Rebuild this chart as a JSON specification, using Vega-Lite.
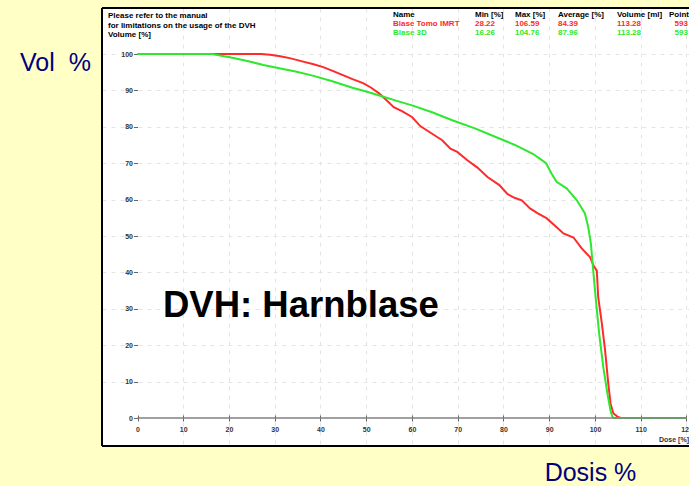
{
  "$schema": "https://vega.github.io/schema/vega-lite/v6.json",
  "width": 587,
  "height": 438,
  "autosize": {"type": "none"},
  "padding": {"left": 102, "top": 8, "right": 0, "bottom": 40},
  "background": "#ffffc6",
  "config": {
    "view": {"fill": "white", "stroke": null},
    "axis": {
      "labelFont": "Liberation Sans",
      "labelFontWeight": "bold",
      "labelFontSize": 7,
      "labelColor": "#333333",
      "domain": false,
      "tickColor": "#666666",
      "gridColor": "#e4e4e4",
      "gridDash": [4, 5],
      "labelOverlap": false,
      "labelBound": false,
      "labelFlush": false
    },
    "text": {"font": "Liberation Sans", "fontWeight": "bold", "fontSize": 8, "align": "left", "baseline": "middle"}
  },
  "datasets": {
    "curves": [
      {"series": "Blase Tomo IMRT", "dose": 0, "vol": 100},
      {"series": "Blase Tomo IMRT", "dose": 16.3, "vol": 100},
      {"series": "Blase Tomo IMRT", "dose": 27, "vol": 100},
      {"series": "Blase Tomo IMRT", "dose": 29, "vol": 99.8},
      {"series": "Blase Tomo IMRT", "dose": 31.2, "vol": 99.4},
      {"series": "Blase Tomo IMRT", "dose": 33.5, "vol": 98.8},
      {"series": "Blase Tomo IMRT", "dose": 36.2, "vol": 97.9},
      {"series": "Blase Tomo IMRT", "dose": 38.5, "vol": 97.2},
      {"series": "Blase Tomo IMRT", "dose": 40.6, "vol": 96.4},
      {"series": "Blase Tomo IMRT", "dose": 42.8, "vol": 95.3},
      {"series": "Blase Tomo IMRT", "dose": 44.9, "vol": 94.2},
      {"series": "Blase Tomo IMRT", "dose": 47, "vol": 93.1},
      {"series": "Blase Tomo IMRT", "dose": 49.3, "vol": 92},
      {"series": "Blase Tomo IMRT", "dose": 51, "vol": 90.8},
      {"series": "Blase Tomo IMRT", "dose": 52.8, "vol": 89.2},
      {"series": "Blase Tomo IMRT", "dose": 54.5, "vol": 87.2},
      {"series": "Blase Tomo IMRT", "dose": 56, "vol": 85.4},
      {"series": "Blase Tomo IMRT", "dose": 57.8, "vol": 84.3},
      {"series": "Blase Tomo IMRT", "dose": 60, "vol": 82.7},
      {"series": "Blase Tomo IMRT", "dose": 61.8, "vol": 80.2},
      {"series": "Blase Tomo IMRT", "dose": 64.4, "vol": 78.1},
      {"series": "Blase Tomo IMRT", "dose": 66.6, "vol": 76.3},
      {"series": "Blase Tomo IMRT", "dose": 68.4, "vol": 74},
      {"series": "Blase Tomo IMRT", "dose": 69.9, "vol": 73.1},
      {"series": "Blase Tomo IMRT", "dose": 72.1, "vol": 70.8},
      {"series": "Blase Tomo IMRT", "dose": 74.3, "vol": 68.8},
      {"series": "Blase Tomo IMRT", "dose": 76.5, "vol": 66.2},
      {"series": "Blase Tomo IMRT", "dose": 79.1, "vol": 64},
      {"series": "Blase Tomo IMRT", "dose": 80.9, "vol": 61.5},
      {"series": "Blase Tomo IMRT", "dose": 82.4, "vol": 60.5},
      {"series": "Blase Tomo IMRT", "dose": 84, "vol": 59.8},
      {"series": "Blase Tomo IMRT", "dose": 85.8, "vol": 57.6},
      {"series": "Blase Tomo IMRT", "dose": 87.5, "vol": 56.2},
      {"series": "Blase Tomo IMRT", "dose": 89.4, "vol": 54.9},
      {"series": "Blase Tomo IMRT", "dose": 91.2, "vol": 52.9},
      {"series": "Blase Tomo IMRT", "dose": 93.1, "vol": 50.7},
      {"series": "Blase Tomo IMRT", "dose": 95.3, "vol": 49.6},
      {"series": "Blase Tomo IMRT", "dose": 97.1, "vol": 46.6},
      {"series": "Blase Tomo IMRT", "dose": 98.9, "vol": 44.2},
      {"series": "Blase Tomo IMRT", "dose": 99.8, "vol": 41.6},
      {"series": "Blase Tomo IMRT", "dose": 100.4, "vol": 40.5},
      {"series": "Blase Tomo IMRT", "dose": 100.7, "vol": 33.3},
      {"series": "Blase Tomo IMRT", "dose": 101.5, "vol": 26},
      {"series": "Blase Tomo IMRT", "dose": 102.2, "vol": 18.7},
      {"series": "Blase Tomo IMRT", "dose": 102.9, "vol": 9.5},
      {"series": "Blase Tomo IMRT", "dose": 103.4, "vol": 4},
      {"series": "Blase Tomo IMRT", "dose": 104, "vol": 1.3},
      {"series": "Blase Tomo IMRT", "dose": 104.9, "vol": 0.4},
      {"series": "Blase Tomo IMRT", "dose": 105.6, "vol": 0},
      {"series": "Blase Tomo IMRT", "dose": 120, "vol": 0},
      {"series": "Blase 3D", "dose": 0, "vol": 100},
      {"series": "Blase 3D", "dose": 16.3, "vol": 100},
      {"series": "Blase 3D", "dose": 18, "vol": 99.6},
      {"series": "Blase 3D", "dose": 20.2, "vol": 99.1},
      {"series": "Blase 3D", "dose": 24, "vol": 98.1},
      {"series": "Blase 3D", "dose": 27.5, "vol": 97},
      {"series": "Blase 3D", "dose": 31, "vol": 96.1},
      {"series": "Blase 3D", "dose": 34.8, "vol": 95.1},
      {"series": "Blase 3D", "dose": 38.5, "vol": 94},
      {"series": "Blase 3D", "dose": 42.4, "vol": 92.6},
      {"series": "Blase 3D", "dose": 46.8, "vol": 90.8},
      {"series": "Blase 3D", "dose": 50, "vol": 89.7},
      {"series": "Blase 3D", "dose": 53.4, "vol": 88.4},
      {"series": "Blase 3D", "dose": 56.5, "vol": 87.2},
      {"series": "Blase 3D", "dose": 60, "vol": 85.9},
      {"series": "Blase 3D", "dose": 64.4, "vol": 84},
      {"series": "Blase 3D", "dose": 68.8, "vol": 81.8},
      {"series": "Blase 3D", "dose": 73.9, "vol": 79.5},
      {"series": "Blase 3D", "dose": 78.3, "vol": 77.2},
      {"series": "Blase 3D", "dose": 82.7, "vol": 74.9},
      {"series": "Blase 3D", "dose": 86.4, "vol": 72.6},
      {"series": "Blase 3D", "dose": 88, "vol": 71.2},
      {"series": "Blase 3D", "dose": 89.3, "vol": 70},
      {"series": "Blase 3D", "dose": 90.5, "vol": 67.2},
      {"series": "Blase 3D", "dose": 91.6, "vol": 64.9},
      {"series": "Blase 3D", "dose": 93.8, "vol": 63.1},
      {"series": "Blase 3D", "dose": 96, "vol": 59.9},
      {"series": "Blase 3D", "dose": 97.8, "vol": 56.2},
      {"series": "Blase 3D", "dose": 98.5, "vol": 52.6},
      {"series": "Blase 3D", "dose": 99.1, "vol": 48},
      {"series": "Blase 3D", "dose": 99.6, "vol": 40.7},
      {"series": "Blase 3D", "dose": 100.2, "vol": 32.4},
      {"series": "Blase 3D", "dose": 100.9, "vol": 23.3},
      {"series": "Blase 3D", "dose": 101.8, "vol": 14.1},
      {"series": "Blase 3D", "dose": 102.7, "vol": 6.8},
      {"series": "Blase 3D", "dose": 103.4, "vol": 2},
      {"series": "Blase 3D", "dose": 103.8, "vol": 0.3},
      {"series": "Blase 3D", "dose": 104.2, "vol": 0},
      {"series": "Blase 3D", "dose": 120, "vol": 0}
    ],
    "table": [
      {"series": "header", "name": "Name", "min": "Min [%]", "max": "Max [%]", "avg": "Average [%]", "volume": "Volume [ml]", "points": "Points"},
      {"series": "Blase Tomo IMRT", "name": "Blase Tomo IMRT", "min": "28.22", "max": "106.59", "avg": "84.39", "volume": "113.28", "points": "593"},
      {"series": "Blase 3D", "name": "Blase 3D", "min": "16.26", "max": "104.76", "avg": "87.96", "volume": "113.28", "points": "593"}
    ]
  },
  "layer": [
    {
      "data": {"name": "curves"},
      "transform": [{"filter": "datum.series === 'Blase Tomo IMRT'"}],
      "mark": {"type": "line", "strokeWidth": 2},
      "encoding": {
        "x": {
          "field": "dose", "type": "quantitative",
          "scale": {"domain": [-7.76, 120.55], "nice": false, "zero": false},
          "axis": {
            "orient": "bottom", "offset": -31,
            "values": [0, 10, 20, 30, 40, 50, 60, 70, 80, 90, 100, 110, 120],
            "tickSize": 6, "labelPadding": 4,
            "gridOpacity": {"condition": {"test": "datum.value === 0", "value": 0}, "value": 1},
            "title": "Dosis %",
            "titleFont": "Liberation Sans", "titleFontSize": 25, "titleFontWeight": "normal",
            "titleColor": "#000080", "titleX": 488, "titleY": 57,
            "titleAlign": "center", "titleBaseline": "middle"
          }
        },
        "y": {
          "field": "vol", "type": "quantitative",
          "scale": {"domain": [-7.69, 112.64], "nice": false, "zero": false},
          "axis": {
            "orient": "left", "offset": -35.5,
            "values": [0, 10, 20, 30, 40, 50, 60, 70, 80, 90, 100],
            "tickSize": 4, "labelPadding": 1,
            "gridOpacity": {"condition": {"test": "datum.value === 0", "value": 0}, "value": 1},
            "title": "Vol\u00a0\u00a0%",
            "titleAngle": 0,
            "titleFont": "Liberation Sans", "titleFontSize": 25, "titleFontWeight": "normal",
            "titleColor": "#000080", "titleX": -82.5, "titleY": 54,
            "titleAlign": "center", "titleBaseline": "middle"
          }
        },
        "color": {
          "field": "series", "type": "nominal",
          "scale": {"domain": ["Blase Tomo IMRT", "Blase 3D", "header"], "range": ["#ff2a2a", "#2ee82e", "#000000"]},
          "legend": null
        }
      }
    },
    {
      "data": {"name": "curves"},
      "transform": [{"filter": "datum.series === 'Blase 3D'"}],
      "mark": {"type": "line", "strokeWidth": 2},
      "encoding": {
        "x": {"field": "dose", "type": "quantitative"},
        "y": {"field": "vol", "type": "quantitative"},
        "color": {"field": "series", "type": "nominal", "legend": null}
      }
    },
    {
      "data": {"values": [{}]},
      "mark": {"type": "rule", "color": "#808080", "strokeWidth": 1.5},
      "encoding": {"x": {"datum": 0}, "x2": {"datum": 120}, "y": {"datum": 0}}
    },
    {
      "data": {"values": [{}]},
      "mark": {"type": "rule", "color": "#000000", "strokeWidth": 2},
      "encoding": {"x": {"datum": -7.76}}
    },
    {
      "data": {"values": [{}]},
      "mark": {"type": "rule", "color": "#000000", "strokeWidth": 2},
      "encoding": {"y": {"datum": 112.64}}
    },
    {
      "data": {"values": [{}]},
      "mark": {"type": "rule", "color": "#000000", "strokeWidth": 2},
      "encoding": {"y": {"datum": -7.69}}
    },
    {
      "data": {"values": [{}]},
      "mark": {"type": "text", "baseline": "top", "lineHeight": 9.5, "color": "#000000"},
      "encoding": {
        "x": {"datum": -6.45},
        "y": {"datum": 111.48},
        "text": {"value": ["Please refer to the manual", "for limitations on the usage of the DVH", "Volume [%]"]}
      }
    },
    {
      "data": {"values": [{}]},
      "mark": {"type": "text", "baseline": "alphabetic", "fontSize": 36.5, "color": "#000000"},
      "encoding": {
        "x": {"datum": 5.57},
        "y": {"datum": 27.75},
        "text": {"value": "DVH: Harnblase"}
      }
    },
    {
      "data": {"values": [{}]},
      "mark": {"type": "text", "fontSize": 7, "color": "#333333"},
      "encoding": {
        "x": {"datum": 114},
        "y": {"datum": -6.04},
        "text": {"value": "Dose [%]"}
      }
    },
    {
      "data": {"name": "table"},
      "transform": [{"filter": "datum.series === 'header'"}],
      "encoding": {"y": {"datum": 110.71}, "color": {"field": "series", "type": "nominal", "legend": null}},
      "layer": [
        {"mark": "text", "encoding": {"x": {"datum": 55.85}, "text": {"field": "name"}}},
        {"mark": "text", "encoding": {"x": {"datum": 73.77}, "text": {"field": "min"}}},
        {"mark": "text", "encoding": {"x": {"datum": 82.51}, "text": {"field": "max"}}},
        {"mark": "text", "encoding": {"x": {"datum": 91.91}, "text": {"field": "avg"}}},
        {"mark": "text", "encoding": {"x": {"datum": 104.81}, "text": {"field": "volume"}}},
        {"mark": "text", "encoding": {"x": {"datum": 116.17}, "text": {"field": "points"}}}
      ]
    },
    {
      "data": {"name": "table"},
      "transform": [{"filter": "datum.series === 'Blase Tomo IMRT'"}],
      "encoding": {"y": {"datum": 108.24}, "color": {"field": "series", "type": "nominal", "legend": null}},
      "layer": [
        {"mark": "text", "encoding": {"x": {"datum": 55.85}, "text": {"field": "name"}}},
        {"mark": "text", "encoding": {"x": {"datum": 73.77}, "text": {"field": "min"}}},
        {"mark": "text", "encoding": {"x": {"datum": 82.51}, "text": {"field": "max"}}},
        {"mark": "text", "encoding": {"x": {"datum": 91.91}, "text": {"field": "avg"}}},
        {"mark": "text", "encoding": {"x": {"datum": 104.81}, "text": {"field": "volume"}}},
        {"mark": "text", "encoding": {"x": {"datum": 117.4}, "text": {"field": "points"}}}
      ]
    },
    {
      "data": {"name": "table"},
      "transform": [{"filter": "datum.series === 'Blase 3D'"}],
      "encoding": {"y": {"datum": 105.77}, "color": {"field": "series", "type": "nominal", "legend": null}},
      "layer": [
        {"mark": "text", "encoding": {"x": {"datum": 55.85}, "text": {"field": "name"}}},
        {"mark": "text", "encoding": {"x": {"datum": 73.77}, "text": {"field": "min"}}},
        {"mark": "text", "encoding": {"x": {"datum": 82.51}, "text": {"field": "max"}}},
        {"mark": "text", "encoding": {"x": {"datum": 91.91}, "text": {"field": "avg"}}},
        {"mark": "text", "encoding": {"x": {"datum": 104.81}, "text": {"field": "volume"}}},
        {"mark": "text", "encoding": {"x": {"datum": 117.4}, "text": {"field": "points"}}}
      ]
    }
  ]
}
